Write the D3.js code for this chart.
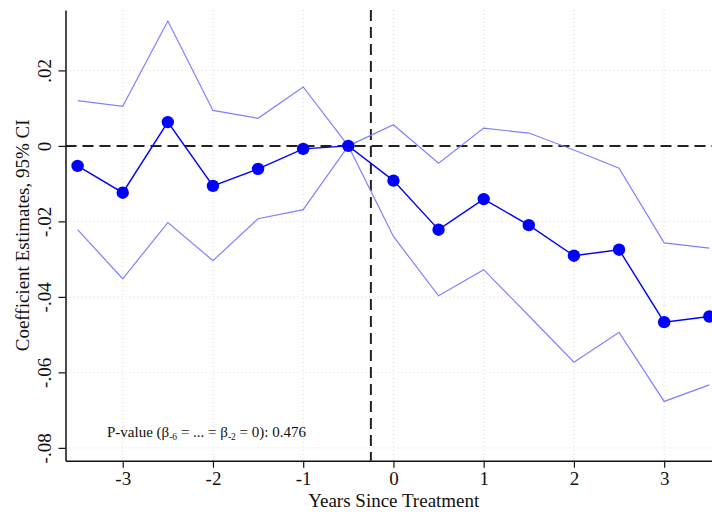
<!DOCTYPE html>
<html>
<head>
<meta charset="utf-8">
<script src="https://cdn.jsdelivr.net/npm/d3@7"></script>
<style>
  body { margin: 0; background: #fff; }
  text { font-family: "Liberation Serif", "Times New Roman", serif; fill: #111; }
</style>
</head>
<body>
<div class="chart"></div>
<script>
// Data
const years = [-3.5, -3, -2.5, -2, -1.5, -1, -0.5, 0, 0.5, 1, 1.5, 2, 2.5, 3, 3.5];
const coef  = [-0.0053, -0.0124, 0.0063, -0.0106, -0.0061, -0.0008, 0, -0.0092, -0.0222, -0.0141, -0.0210, -0.0291, -0.0275, -0.0467, -0.0452];
const upper = [0.0120, 0.0105, 0.0331, 0.0094, 0.0073, 0.0156, 0, 0.0056, -0.0046, 0.0047, 0.0034, -0.0011, -0.0059, -0.0257, -0.0271];
const lower = [-0.0222, -0.0352, -0.0203, -0.0304, -0.0193, -0.0169, 0, -0.0240, -0.0397, -0.0328, -0.0450, -0.0573, -0.0494, -0.0677, -0.0633];
const xTicks = [-3, -2, -1, 0, 1, 2, 3];
const yTicks = [-0.08, -0.06, -0.04, -0.02, 0, 0.02];
const treatmentLine = -0.25;

// Formatting like Stata: .02, -.02, 0
function formatY(d){
    if (d === 0) return '0';
    return d3.format('.2f')(d).replace('\u2212', '-').replace('0.', '.');
}

const W = 712, H = 514;
const margin = {top: 10, right: 0, bottom: 53.3, left: 65.5};

const xScale = d3.scaleLinear([-3.634, 3.53], [margin.left, W - margin.right]);
const yScale = d3.scaleLinear([-0.0834, 0.036], [H - margin.bottom, margin.top]);

const svg = d3.select('.chart')
    .append('svg')
    .attr('width', W)
    .attr('height', H);

// Grid
svg.append('g')
    .selectAll('line')
    .data(xTicks)
    .join('line')
    .attr('x1', d => xScale(d)).attr('x2', d => xScale(d))
    .attr('y1', margin.top).attr('y2', H - margin.bottom)
    .attr('stroke', '#d8d8d8').attr('stroke-width', 1).attr('stroke-dasharray', '1,3');

svg.append('g')
    .selectAll('line')
    .data(yTicks)
    .join('line')
    .attr('x1', margin.left).attr('x2', W - margin.right)
    .attr('y1', d => yScale(d)).attr('y2', d => yScale(d))
    .attr('stroke', '#d8d8d8').attr('stroke-width', 1).attr('stroke-dasharray', '1,3');

// Reference lines
svg.append('line')
    .attr('x1', margin.left).attr('x2', W)
    .attr('y1', yScale(0)).attr('y2', yScale(0))
    .attr('stroke', '#222').attr('stroke-width', 2).attr('stroke-dasharray', '11,6');

svg.append('line')
    .attr('x1', xScale(treatmentLine)).attr('x2', xScale(treatmentLine))
    .attr('y1', margin.top).attr('y2', H - margin.bottom)
    .attr('stroke', '#222').attr('stroke-width', 2).attr('stroke-dasharray', '11,6');

// CI lines
const line = d3.line().x((d, i) => xScale(years[i])).y(d => yScale(d));
[upper, lower].forEach(arr => {
    svg.append('path')
        .attr('d', line(arr))
        .attr('fill', 'none')
        .attr('stroke', '#8080ff')
        .attr('stroke-width', 1.2);
});

// Point estimates
svg.append('path')
    .attr('d', line(coef))
    .attr('fill', 'none')
    .attr('stroke', '#0000ff')
    .attr('stroke-width', 1.4);

svg.append('g')
    .selectAll('circle')
    .data(coef)
    .join('circle')
    .attr('cx', (d, i) => xScale(years[i]))
    .attr('cy', d => yScale(d))
    .attr('r', 6.2)
    .attr('fill', '#0000ff');

// Axes
const xAxis = d3.axisBottom(xScale).tickValues(xTicks).tickSize(7).tickSizeOuter(0).tickFormat(d => String(d));
const xAxisDraw = svg.append('g')
    .attr('class', 'x axis')
    .attr('transform', `translate(0, ${H - margin.bottom})`)
    .call(xAxis);
xAxisDraw.attr('font-family', null);
xAxisDraw.select('.domain').attr('stroke', '#111').attr('stroke-width', 1.5);
xAxisDraw.selectAll('.tick line').attr('stroke', '#111').attr('stroke-width', 1.2);
xAxisDraw.selectAll('text')
    .attr('y', 11).attr('dy', '0.71em')
    .style('font-size', '19px')
    .style('font-family', '"Liberation Serif", serif')
    .attr('fill', '#111');

const yAxis = d3.axisLeft(yScale).tickValues(yTicks).tickSize(7).tickSizeOuter(0).tickFormat(formatY);
const yAxisDraw = svg.append('g')
    .attr('class', 'y axis')
    .attr('transform', `translate(${margin.left}, 0)`)
    .call(yAxis);
yAxisDraw.attr('font-family', null);
yAxisDraw.select('.domain').attr('stroke', '#111').attr('stroke-width', 1.5);
yAxisDraw.selectAll('.tick line').attr('stroke', '#111').attr('stroke-width', 1.2);
yAxisDraw.selectAll('text')
    .attr('x', null).attr('dy', null)
    .attr('text-anchor', 'middle')
    .attr('transform', 'translate(-15, 0) rotate(-90)')
    .style('font-size', '19px')
    .style('font-family', '"Liberation Serif", serif')
    .attr('fill', '#111');

// Axis titles
svg.append('text')
    .attr('x', (xScale(-3.634) + xScale(3.53)) / 2 + 5)
    .attr('y', 507)
    .attr('text-anchor', 'middle')
    .style('font-size', '19px')
    .text('Years Since Treatment');

svg.append('text')
    .attr('transform', `translate(29, ${(margin.top + H - margin.bottom) / 2}) rotate(-90)`)
    .attr('text-anchor', 'middle')
    .style('font-size', '19px')
    .text('Coefficient Estimates, 95% CI');

// P-value note
const note = svg.append('text')
    .attr('x', 107)
    .attr('y', 437)
    .style('font-size', '15px');
note.append('tspan').text('P-value (β');
note.append('tspan').text('-6').attr('dy', 3).style('font-size', '9.5px');
note.append('tspan').text(' = ... = β').attr('dy', -3);
note.append('tspan').text('-2').attr('dy', 3).style('font-size', '9.5px');
note.append('tspan').text(' = 0): 0.476').attr('dy', -3);
</script>
</body>
</html>
